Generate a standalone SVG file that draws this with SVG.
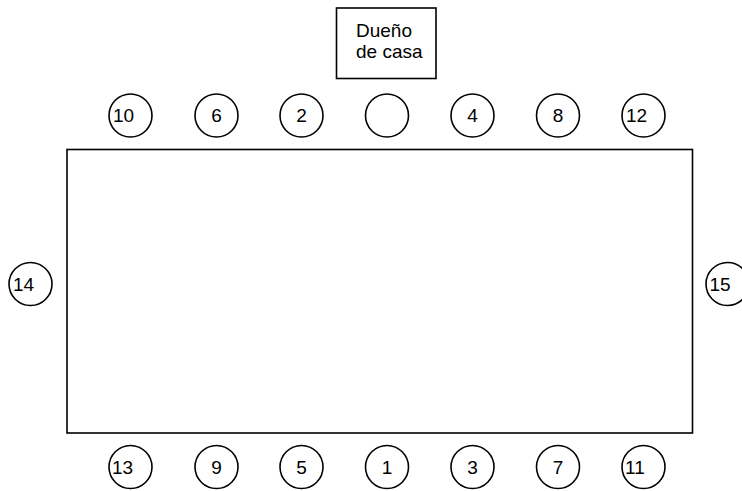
<svg xmlns="http://www.w3.org/2000/svg" width="742" height="491" viewBox="0 0 742 491">
<style>
.s{fill:#fff;stroke:#000;stroke-width:1.6}
.t{font-family:"Liberation Sans",Arial,sans-serif;font-size:19px;fill:#000}
.m{text-anchor:middle}
</style>
<rect x="0" y="0" width="742" height="491" fill="#fff"/>
<g id="table"><rect class="s" x="67" y="149.5" width="625.5" height="283.5"/></g>
<g id="host"><rect class="s" x="336.5" y="8" width="99.5" height="70.5"/>
<text class="t" x="356" y="36.5">Dueño</text><text class="t" x="356" y="57.5">de casa</text></g>
<g id="seat-host"><circle class="s" cx="387" cy="115.5" r="21.5"/></g>
<g id="seat-10"><circle class="s" cx="130.5" cy="115.5" r="21.5"/><text class="t" x="113" y="122">10</text></g>
<g id="seat-6"><circle class="s" cx="216.5" cy="115.5" r="21.5"/><text class="t m" x="216.5" y="122">6</text></g>
<g id="seat-2"><circle class="s" cx="301.5" cy="115.5" r="21.5"/><text class="t m" x="301.5" y="122">2</text></g>
<g id="seat-4"><circle class="s" cx="472.5" cy="115.5" r="21.5"/><text class="t m" x="472.5" y="122">4</text></g>
<g id="seat-8"><circle class="s" cx="558" cy="115.5" r="21.5"/><text class="t m" x="558" y="122">8</text></g>
<g id="seat-12"><circle class="s" cx="643.5" cy="115.5" r="21.5"/><text class="t" x="626" y="122">12</text></g>
<g id="seat-14"><circle class="s" cx="30.5" cy="284" r="21.5"/><text class="t" x="13" y="290.5">14</text></g>
<g id="seat-15"><circle class="s" cx="727.5" cy="284" r="21.5"/><text class="t" x="709.5" y="290.5">15</text></g>
<g id="seat-13"><circle class="s" cx="130.5" cy="467" r="21.5"/><text class="t" x="112" y="473.5">13</text></g>
<g id="seat-9"><circle class="s" cx="216.5" cy="467" r="21.5"/><text class="t m" x="216.5" y="473.5">9</text></g>
<g id="seat-5"><circle class="s" cx="301.5" cy="467" r="21.5"/><text class="t m" x="301.5" y="473.5">5</text></g>
<g id="seat-1"><circle class="s" cx="387" cy="467" r="21.5"/><text class="t m" x="387" y="473.5">1</text></g>
<g id="seat-3"><circle class="s" cx="472.5" cy="467" r="21.5"/><text class="t m" x="472.5" y="473.5">3</text></g>
<g id="seat-7"><circle class="s" cx="558" cy="467" r="21.5"/><text class="t m" x="558" y="473.5">7</text></g>
<g id="seat-11"><circle class="s" cx="643.5" cy="467" r="21.5"/><text class="t" x="625" y="473.5">11</text></g>
<g id="connectors"/>
</svg>
